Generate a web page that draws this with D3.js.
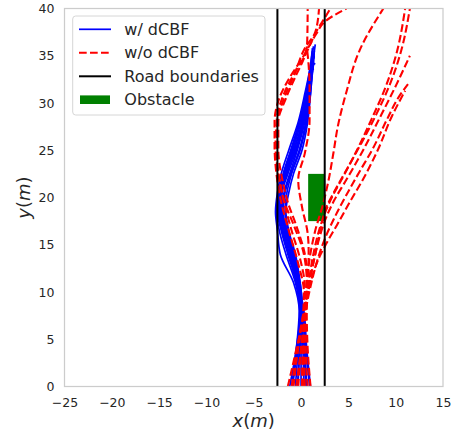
<!DOCTYPE html>
<html>
<head>
<meta charset="utf-8">
<script src="https://cdn.jsdelivr.net/npm/d3@7"></script>
<style>
  body { margin: 0; background: #fff; }
  svg text { font-family: "DejaVu Sans", sans-serif; fill: #262626; }
</style>
</head>
<body>
<svg id="chart" width="453" height="434"></svg>
<script>
// axis ranges and ticks
const xDomain = [-25, 15];
const yDomain = [0, 40];
const xTicks = [-25, -20, -15, -10, -5, 0, 5, 10, 15];
const yTicks = [0, 5, 10, 15, 20, 25, 30, 35, 40];

// road boundaries and obstacle (x0, x1, y0, y1)
const roadX = [-2.5, 2.5];
const obstacle = [0.75, 2.5, 17.5, 22.5];

// w/ dCBF trajectories: x at shared y knots, then a final point
const blueY = [0, 4, 8, 11, 14, 16.5, 18.5, 20.5, 22.5, 25, 28, 31, 34];
const blueX = [
  [-1.2, -0.5, -0.1, -0.6, -1.6, -2.3, -2.6, -2.4, -1.9, -1.1, -0.2, 0.5, 1.0],
  [-0.9, -0.4, -0.1, -0.5, -1.4, -2.1, -2.5, -2.3, -1.7, -0.9, 0.0, 0.6, 1.1],
  [-0.6, -0.3, 0.0, -0.4, -1.2, -1.9, -2.3, -2.1, -1.5, -0.7, 0.1, 0.7, 1.1],
  [-0.3, -0.2, 0.0, -0.3, -1.0, -1.7, -2.1, -2.0, -1.4, -0.5, 0.3, 0.8, 1.2],
  [0.0, 0.0, 0.1, -0.2, -0.9, -1.6, -2.0, -1.8, -1.2, -0.4, 0.4, 0.9, 1.2],
  [0.3, 0.2, 0.1, -0.2, -0.8, -1.5, -1.9, -1.7, -1.1, -0.2, 0.5, 0.9, 1.3],
  [0.6, 0.4, 0.2, -0.1, -0.7, -1.4, -1.7, -1.5, -1.0, -0.1, 0.6, 1.0, 1.3],
  [0.9, 0.5, 0.2, -0.1, -0.6, -1.3, -1.6, -1.3, -0.8, 0.1, 0.7, 1.0, 1.2],
  [-1.0, -0.5, -0.2, -0.8, -2.2, -2.5, -2.7, -2.5, -2.1, -1.3, -0.3, 0.4, 1.0],
  [1.0, 0.6, 0.3, -0.3, -1.1, -1.8, -2.2, -2.2, -1.6, -0.6, 0.2, 0.7, 1.1],
  [-0.4, -0.1, 0.1, -0.4, -1.3, -2.0, -2.4, -2.2, -1.6, -0.8, 0.2, 0.8, 1.2],
  [0.5, 0.3, 0.0, -0.2, -0.9, -1.6, -2.2, -2.3, -1.8, -1.0, -0.1, 0.6, 1.1]
];
const blueEnd = [
  [1.2, 35.5], [1.3, 36], [1.4, 35], [1.5, 36.2], [1.3, 34.5], [1.4, 35.5],
  [1.5, 34.2], [1.3, 33.5], [1.2, 35.8], [1.4, 35], [1.3, 35.2], [1.2, 34.8]
];

// w/o dCBF trajectories as [x, y] points
const redPaths = [
  // bend left, then cross to the right at the top
  [[-1.4,0],[-0.6,3.5],[0.2,7.5],[0.3,10],[-0.3,13],[-1.3,16.5],[-2.1,19.5],[-2.6,22.5],[-2.8,25.5],[-2.8,28],[-2.3,30.5],[-1.2,32.7],[0.1,34.7],[1.6,37.3],[2.5,38.6],[4.8,40]],
  [[-0.3,0],[0.0,4],[0.4,8],[0.4,10.5],[-0.1,13.5],[-1.0,16.5],[-1.8,19.5],[-2.4,22.5],[-2.7,25.5],[-2.6,28],[-2.0,30.5],[-0.9,32.8],[0.4,35],[1.8,37.9],[2.5,39],[3.1,40]],
  [[0.4,0],[0.3,4],[0.5,8],[0.6,11],[0.3,14],[-0.7,16.9],[-1.7,19.4],[-2.3,22],[-2.6,25],[-2.5,28],[-1.8,30.5],[-0.7,33],[0.4,35.8],[1.5,37.5],[1.9,40]],
  [[1.0,0],[0.7,4],[0.6,8],[0.7,11],[0.4,14],[-0.5,17],[-1.4,19.5],[-2.0,22],[-2.4,25],[-2.4,28],[-1.6,30.5],[-0.5,33],[0.4,35],[0.65,36.5],[0.7,40]],
  // between the left boundary and the obstacle
  [[0.1,0],[0.2,4],[0.4,8],[0.7,11],[0.8,14.4],[0.7,16.2],[0.1,19],[-0.3,21.9],[0.4,24.7],[0.9,28.2],[0.9,31.6],[0.8,34],[0.6,36]],
  // through the obstacle and off the road to the right
  [[-0.5,0],[0.0,4],[0.5,8],[0.6,11],[0.9,13.5],[1.5,16.5],[2.3,19.2],[2.9,21.8],[3.4,24.6],[3.9,27.6],[4.8,31.2],[6.2,35.6],[8.7,40]],
  [[-1.0,0],[-0.4,4],[0.3,8],[1.0,11],[1.8,13.4],[2.6,15],[3.8,17.1],[5.2,19.6],[6.7,22.2],[8.1,25],[9.6,28.6],[11.0,31.3]],
  [[0.1,0],[0.2,4],[0.5,8],[1.1,11],[1.8,13.6],[2.5,15.6],[3.5,17.8],[4.7,20.1],[6.1,22.6],[7.6,25.2],[9.1,28.3],[10.3,30.6],[11.3,32]],
  [[0.7,0],[0.5,4],[0.5,8],[0.9,11],[1.5,14],[2.1,16.3],[2.7,18],[3.5,19.7],[4.8,21.9],[6.5,24.9],[8.3,28.4],[10.1,32],[11.5,35]],
  [[-0.8,0],[-0.3,4],[0.4,8],[0.8,11],[1.3,14],[1.9,16.5],[2.5,18.3],[3.3,20.1],[4.5,22.3],[5.9,25],[7.5,28.4],[8.9,31.6],[10.1,35.3],[11.0,40]],
  [[0.2,0],[0.3,4],[0.5,8],[0.9,11],[1.5,14],[2.1,16.8],[2.6,18.8],[3.5,20.6],[4.9,23.1],[6.4,25.8],[8.0,28.9],[9.4,32],[10.6,35.6],[11.5,40]]
];

const legendLabels = ["w/ dCBF", "w/o dCBF", "Road boundaries", "Obstacle"];

const margin = {top: 8.5, right: 10, bottom: 47.5, left: 64.5};
const width = 453 - margin.left - margin.right;
const height = 434 - margin.top - margin.bottom;

const svg = d3.select("#chart");
const g = svg.append("g").attr("transform", `translate(${margin.left},${margin.top})`);

const x = d3.scaleLinear().domain(xDomain).range([0, width]);
const y = d3.scaleLinear().domain(yDomain).range([height, 0]);

svg.append("defs").append("clipPath").attr("id", "plot-clip")
  .append("rect").attr("width", width).attr("height", height);

const plot = g.append("g").attr("clip-path", "url(#plot-clip)");

// obstacle (under the lines, like a patch)
plot.append("rect")
  .attr("x", x(obstacle[0]))
  .attr("y", y(obstacle[3]))
  .attr("width", x(obstacle[1]) - x(obstacle[0]))
  .attr("height", y(obstacle[2]) - y(obstacle[3]))
  .attr("fill", "#008000");

// every trajectory moves forward in y, so a y-monotone curve keeps them smooth
const line = d3.line()
  .x(d => x(d[0]))
  .y(d => y(d[1]))
  .curve(d3.curveMonotoneY);

const bluePaths = blueX.map((xs, i) => xs.map((v, k) => [v, blueY[k]]).concat([blueEnd[i]]));

plot.selectAll(".blue").data(bluePaths).enter().append("path")
  .attr("class", "blue")
  .attr("d", line)
  .attr("fill", "none")
  .attr("stroke", "#0000ff")
  .attr("stroke-width", 1.7);

plot.selectAll(".red").data(redPaths).enter().append("path")
  .attr("class", "red")
  .attr("d", line)
  .attr("fill", "none")
  .attr("stroke", "#ff0000")
  .attr("stroke-width", 2.1)
  .attr("stroke-dasharray", "7.7,3.3");

plot.selectAll(".road").data(roadX).enter().append("line")
  .attr("class", "road")
  .attr("x1", d => x(d)).attr("x2", d => x(d))
  .attr("y1", 0).attr("y2", height)
  .attr("stroke", "#000")
  .attr("stroke-width", 2);

// spines
g.append("rect")
  .attr("width", width).attr("height", height)
  .attr("fill", "none")
  .attr("stroke", "#cccccc")
  .attr("stroke-width", 1.25);

// axes
const xAxis = g.append("g")
  .attr("transform", `translate(0,${height})`)
  .call(d3.axisBottom(x).tickValues(xTicks).tickSize(0).tickPadding(11.5));
const yAxis = g.append("g")
  .call(d3.axisLeft(y).tickValues(yTicks).tickSize(0).tickPadding(10));
[xAxis, yAxis].forEach(a => {
  a.select(".domain").remove();
  a.selectAll("text")
    .attr("font-family", "DejaVu Sans")
    .attr("font-size", 12.5)
    .attr("fill", "#262626");
});

// axis labels
const xLabel = svg.append("text")
  .attr("x", margin.left + width / 2)
  .attr("y", 426.5)
  .attr("text-anchor", "middle")
  .attr("font-size", 18);
xLabel.append("tspan").attr("font-style", "italic").text("x");
xLabel.append("tspan").text("(");
xLabel.append("tspan").attr("font-style", "italic").text("m");
xLabel.append("tspan").text(")");

const yLabel = svg.append("text")
  .attr("transform", `translate(30,${margin.top + height / 2}) rotate(-90)`)
  .attr("text-anchor", "middle")
  .attr("font-size", 18);
yLabel.append("tspan").attr("font-style", "italic").text("y");
yLabel.append("tspan").text("(");
yLabel.append("tspan").attr("font-style", "italic").text("m");
yLabel.append("tspan").text(")");

// legend
const legend = svg.append("g").attr("transform", "translate(72.7,16)");
legend.append("rect")
  .attr("width", 192.3).attr("height", 99)
  .attr("rx", 3).attr("ry", 3)
  .attr("fill", "#fff").attr("fill-opacity", 0.8)
  .attr("stroke", "#d6d6d6").attr("stroke-width", 1);

const rowY = [13.3, 36.7, 60.3, 83.7];
const handles = [
  {stroke: "#0000ff", width: 1.7, dash: null},
  {stroke: "#ff0000", width: 2.1, dash: "7.7,3.3"},
  {stroke: "#000", width: 2, dash: null}
];
handles.forEach((h, i) => {
  legend.append("line")
    .attr("x1", 6.3).attr("x2", 38.3)
    .attr("y1", rowY[i]).attr("y2", rowY[i])
    .attr("stroke", h.stroke)
    .attr("stroke-width", h.width)
    .attr("stroke-dasharray", h.dash);
});
legend.append("rect")
  .attr("x", 7.3).attr("y", rowY[3] - 4.3)
  .attr("width", 30).attr("height", 8.6)
  .attr("fill", "#008000");

legend.selectAll(".leg-label").data(legendLabels).enter().append("text")
  .attr("class", "leg-label")
  .attr("x", 51.6)
  .attr("y", (d, i) => rowY[i] + 5.7)
  .attr("font-size", 16)
  .text(d => d);
</script>
</body>
</html>
